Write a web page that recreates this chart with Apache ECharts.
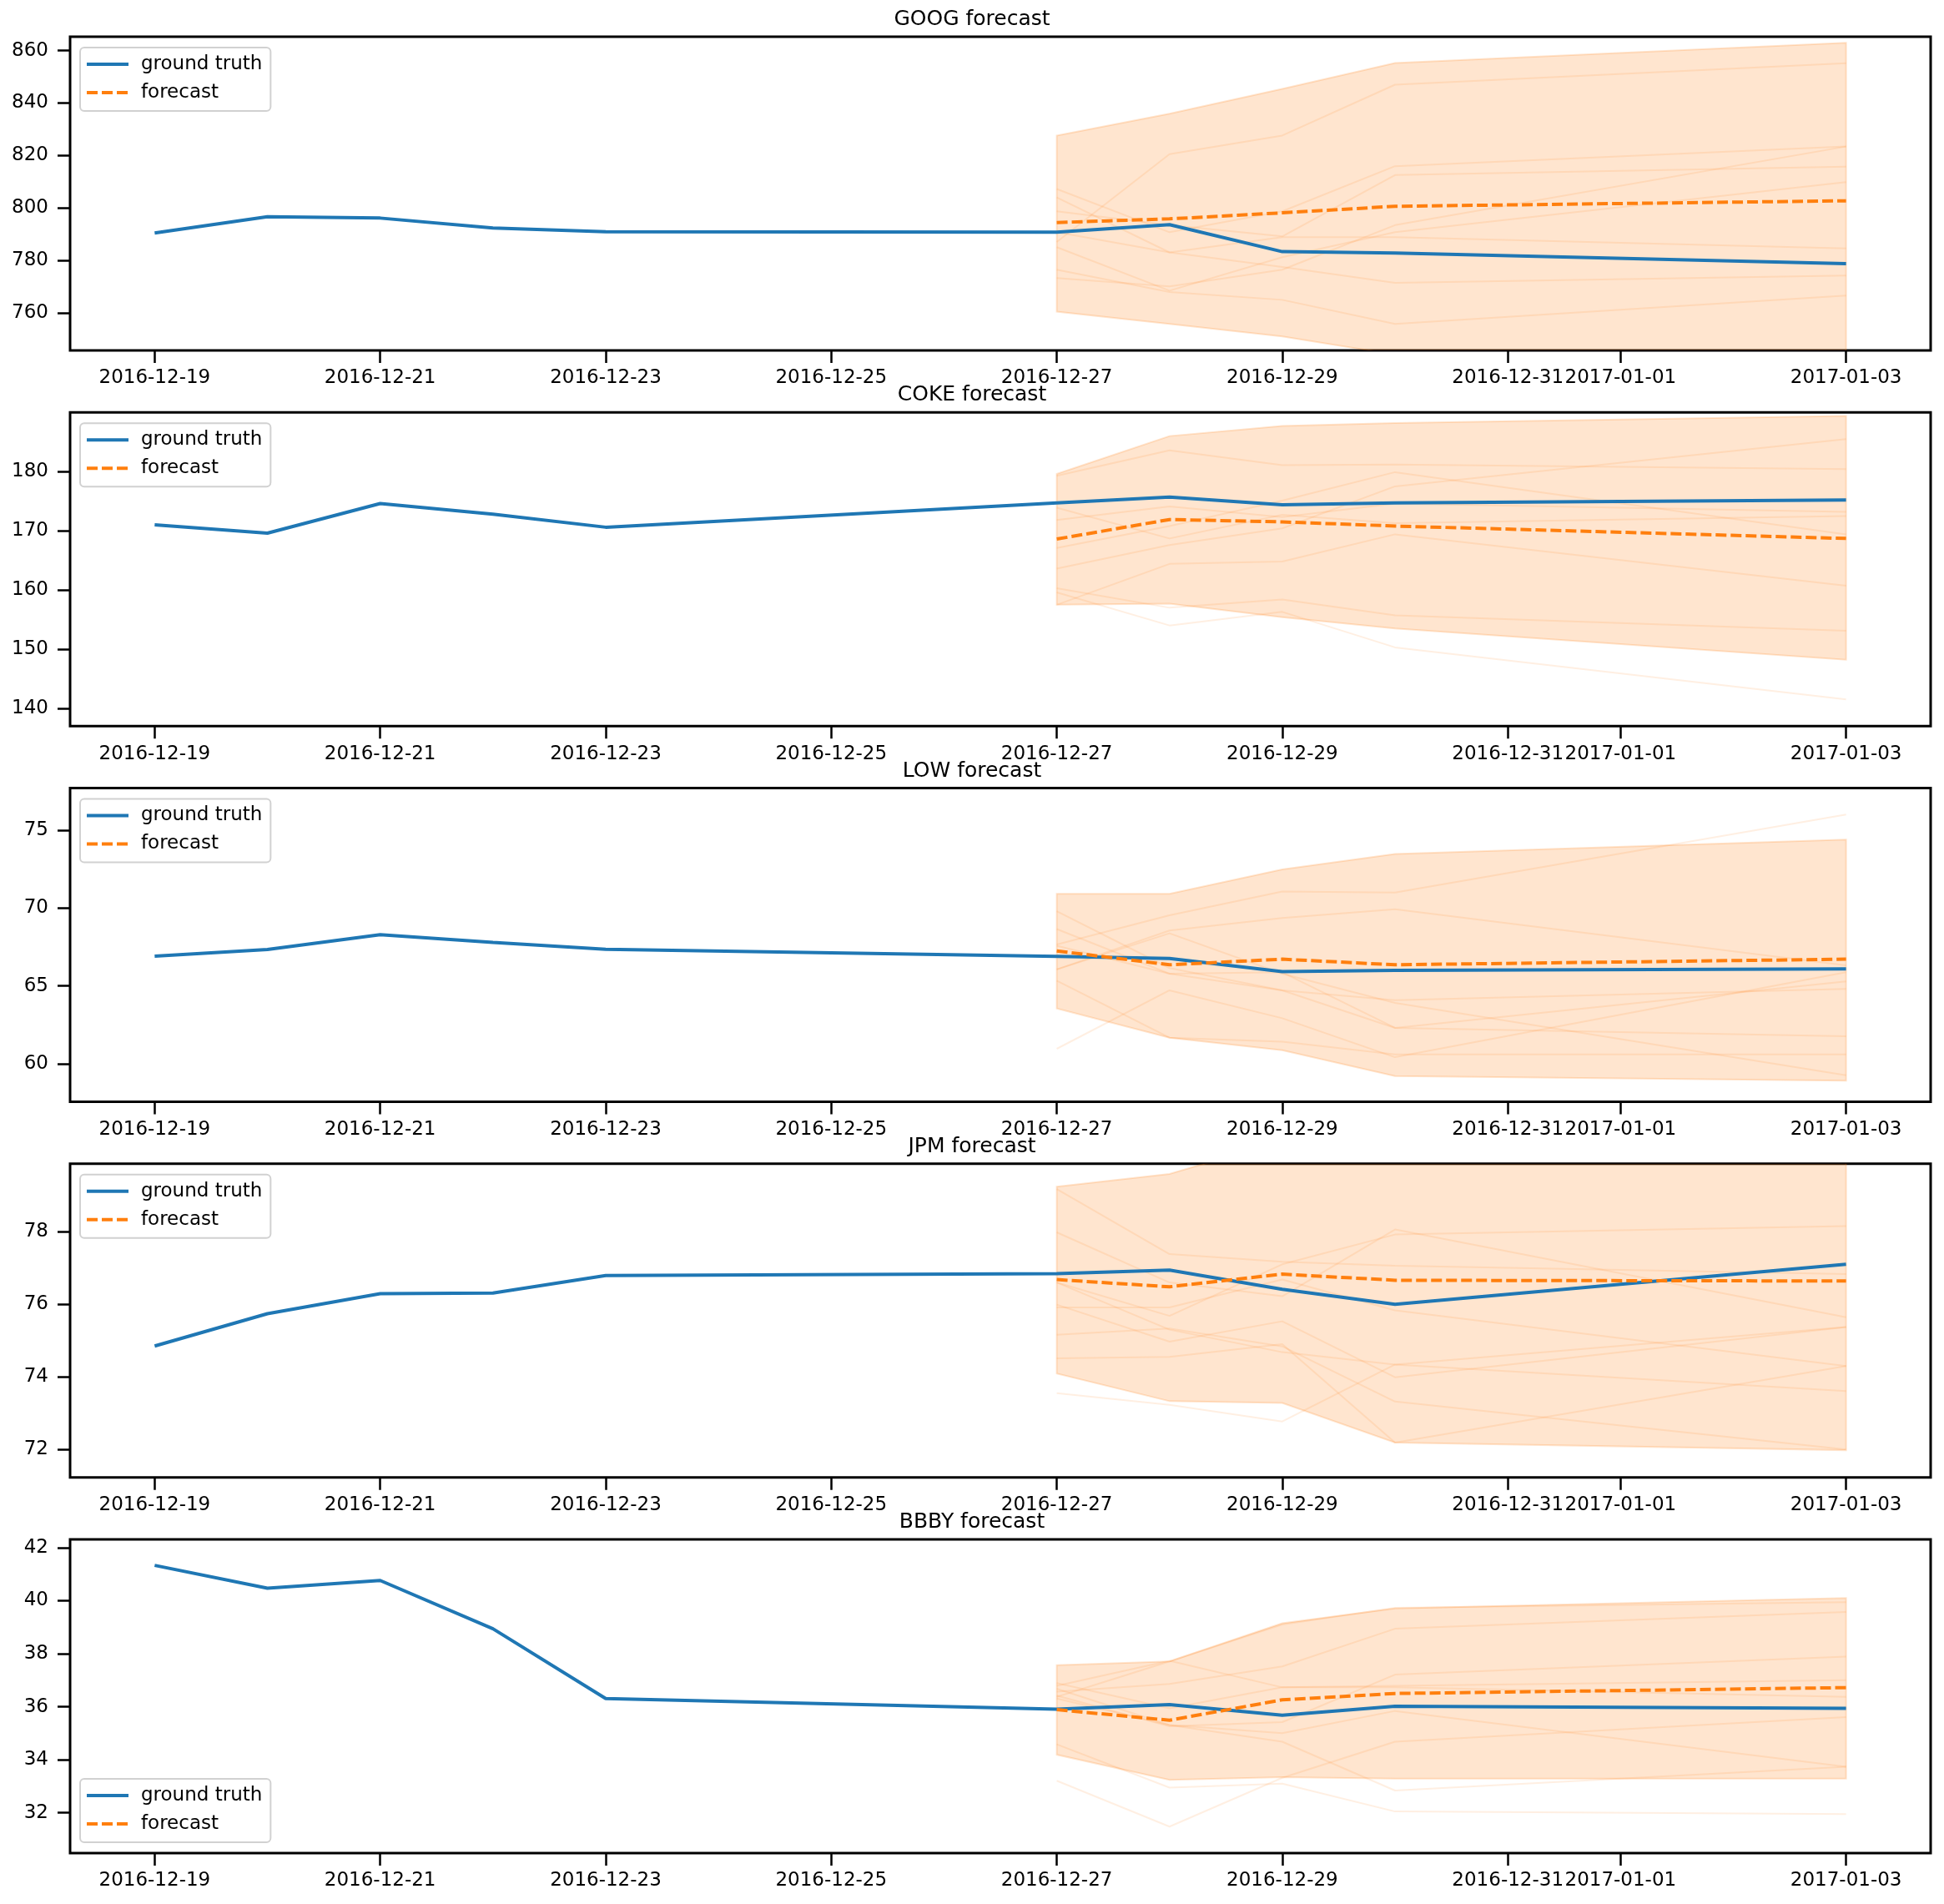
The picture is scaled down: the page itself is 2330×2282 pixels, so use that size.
<!DOCTYPE html>
<html>
<head>
<meta charset="utf-8">
<script src="https://cdn.jsdelivr.net/npm/echarts@6/dist/echarts.min.js"></script>
<style>
html, body { margin: 0; padding: 0; background: #fff; }
#chart { width: 2330px; height: 2282px; }
</style>
</head>
<body>
<div id="chart"></div>
<script>
// dates
const truthDates = ['2016-12-19', '2016-12-20', '2016-12-21', '2016-12-22', '2016-12-23',
  '2016-12-27', '2016-12-28', '2016-12-29', '2016-12-30', '2017-01-03']
const forecastDates = ['2016-12-27', '2016-12-28', '2016-12-29', '2016-12-30', '2017-01-03']
const xTickDates = ['2016-12-19', '2016-12-21', '2016-12-23', '2016-12-25', '2016-12-27',
  '2016-12-29', '2016-12-31', '2017-01-01', '2017-01-03']
const xRange = ['2016-12-18 06', '2017-01-03 18']

// GOOG
const googTruth = [790.4, 796.6, 796.1, 792.3, 790.9, 790.7, 793.6, 783.3, 782.8, 778.7]
const googForecast = [794.4, 795.8, 798.1, 800.6, 802.7]
const googUpper = [827.6, 835.9, 845.4, 855.3, 863.0]
const googLower = [760.4, 755.7, 750.9, 744.0, 741.0]
const googSamples = [
  [787.0, 820.5, 827.6, 847.0, 855.2],
  [807.2, 790.7, 798.7, 815.9, 823.4],
  [804.0, 783.0, 777.4, 771.4, 774.2],
  [798.7, 793.4, 789.1, 812.5, 815.7],
  [776.4, 767.9, 764.9, 755.7, 766.5],
  [773.2, 770.0, 776.4, 793.4, 823.4],
  [790.7, 783.0, 788.8, 788.8, 784.5],
  [785.0, 768.4, 781.2, 790.7, 809.8]
]
const googRange = [745.6, 865.3]
const googTicks = [760, 780, 800, 820, 840, 860]

// COKE
const cokeTruth = [171.0, 169.6, 174.6, 172.8, 170.6, 174.7, 175.7, 174.4, 174.7, 175.2]
const cokeForecast = [168.6, 171.9, 171.5, 170.8, 168.7]
const cokeUpper = [179.6, 186.0, 187.7, 188.2, 189.4]
const cokeLower = [157.5, 157.7, 155.4, 153.5, 148.2]
const cokeSamples = [
  [179.3, 183.6, 181.1, 181.2, 180.4],
  [171.8, 174.1, 172.3, 174.6, 173.2],
  [173.9, 168.7, 172.7, 171.3, 172.5],
  [167.1, 170.8, 175.1, 179.9, 169.4],
  [163.6, 167.6, 170.4, 177.5, 185.5],
  [157.5, 164.4, 164.8, 169.4, 160.7],
  [160.3, 157.0, 158.4, 155.7, 153.1],
  [159.6, 154.0, 156.3, 150.3, 141.5]
]
const cokeRange = [137.0, 190.0]
const cokeTicks = [140, 150, 160, 170, 180]

// LOW
const lowTruth = [66.91, 67.34, 68.29, 67.79, 67.36, 66.90, 66.77, 65.92, 66.00, 66.09]
const lowForecast = [67.25, 66.36, 66.72, 66.36, 66.72]
const lowUpper = [70.91, 70.91, 72.48, 73.47, 74.39]
const lowLower = [63.56, 61.68, 60.88, 59.22, 58.92]
const lowSamples = [
  [67.66, 69.54, 71.06, 71.00, 76.00],
  [66.06, 68.56, 69.36, 69.93, 66.32],
  [69.80, 66.15, 64.72, 62.31, 61.77],
  [68.65, 65.79, 64.72, 64.09, 64.81],
  [65.34, 61.68, 61.42, 60.61, 60.61],
  [60.97, 64.72, 62.93, 60.43, 65.88],
  [66.06, 68.38, 65.79, 63.91, 59.27],
  [67.58, 65.79, 65.88, 62.31, 65.29]
]
const lowRange = [57.57, 77.7]
const lowTicks = [60, 65, 70, 75]

// JPM
const jpmTruth = [74.85, 75.74, 76.29, 76.31, 76.79, 76.84, 76.94, 76.41, 76.00, 77.10]
const jpmForecast = [76.68, 76.48, 76.83, 76.66, 76.64]
const jpmUpper = [79.24, 79.59, 80.5, 80.8, 81.0]
const jpmLower = [74.09, 73.33, 73.28, 72.19, 71.98]
const jpmSamples = [
  [79.17, 77.38, 77.17, 77.06, 76.83],
  [77.98, 76.60, 76.22, 78.06, 75.64],
  [76.60, 75.68, 77.10, 77.92, 78.15],
  [75.91, 75.91, 76.68, 75.83, 74.30],
  [75.99, 74.97, 75.53, 73.99, 75.37],
  [75.16, 75.33, 74.84, 73.32, 72.00],
  [74.51, 74.55, 74.90, 72.19, 74.30],
  [76.60, 75.30, 74.68, 74.34, 73.61],
  [73.55, 73.23, 72.77, 74.34, 75.37]
]
const jpmRange = [71.23, 79.87]
const jpmTicks = [72, 74, 76, 78]

// BBBY
const bbbyTruth = [41.33, 40.47, 40.76, 38.94, 36.31, 35.91, 36.08, 35.68, 36.02, 35.94]
const bbbyForecast = [35.89, 35.49, 36.26, 36.50, 36.72]
const bbbyUpper = [37.57, 37.71, 39.15, 39.71, 40.10]
const bbbyLower = [34.19, 33.24, 33.34, 33.29, 33.29]
const bbbySamples = [
  [36.37, 37.71, 39.10, 39.73, 39.94],
  [36.57, 36.86, 37.52, 38.94, 39.57],
  [36.89, 35.94, 36.73, 36.79, 37.00],
  [36.68, 35.31, 35.00, 35.84, 33.74],
  [36.42, 35.26, 35.42, 37.21, 37.89],
  [34.58, 32.95, 33.10, 32.05, 31.95],
  [33.21, 31.48, 33.32, 34.68, 35.61],
  [36.31, 35.31, 34.68, 32.84, 33.74],
  [36.79, 37.73, 36.73, 36.73, 36.37]
]
const bbbyRange = [30.48, 42.31]
const bbbyTicks = [32, 34, 36, 38, 40, 42]

const panels = [
  { name: 'GOOG', truth: googTruth, forecast: googForecast, upper: googUpper, lower: googLower, samples: googSamples, range: googRange, ticks: googTicks, legendLow: false },
  { name: 'COKE', truth: cokeTruth, forecast: cokeForecast, upper: cokeUpper, lower: cokeLower, samples: cokeSamples, range: cokeRange, ticks: cokeTicks, legendLow: false },
  { name: 'LOW', truth: lowTruth, forecast: lowForecast, upper: lowUpper, lower: lowLower, samples: lowSamples, range: lowRange, ticks: lowTicks, legendLow: false },
  { name: 'JPM', truth: jpmTruth, forecast: jpmForecast, upper: jpmUpper, lower: jpmLower, samples: jpmSamples, range: jpmRange, ticks: jpmTicks, legendLow: false },
  { name: 'BBBY', truth: bbbyTruth, forecast: bbbyForecast, upper: bbbyUpper, lower: bbbyLower, samples: bbbySamples, range: bbbyRange, ticks: bbbyTicks, legendLow: true }
]

// 本地时间解析 'yyyy-mm-dd' 或 'yyyy-mm-dd hh'
function toTime (s) {
  const p = s.split(/[- ]/).map(Number)
  return new Date(p[0], p[1] - 1, p[2], p[3] || 0).getTime()
}
function fmtDate (v) {
  const d = new Date(v)
  const pad = n => String(n).padStart(2, '0')
  return d.getFullYear() + '-' + pad(d.getMonth() + 1) + '-' + pad(d.getDate())
}

const FONT = 'DejaVu Sans'
const BLUE = '#1f77b4'
const ORANGE = '#ff7f0e'
const gridLeft = 84
const gridRight = 16
const gridTop0 = 44
const gridPitch = 450.25
const gridHeight = 376

const xTicks = xTickDates.map(toTime)
const truthX = truthDates.map(toTime)
const fcX = forecastDates.map(toTime)

const option = {
  backgroundColor: '#fff',
  animation: false,
  title: [],
  legend: [],
  grid: [],
  xAxis: [],
  yAxis: [],
  series: []
}

// 区间带：用 custom 系列画成一个多边形
function bandRenderItem (params, api) {
  if (params.dataIndex !== 0) return
  const n = params.dataInsideLength
  const top = []
  const bottom = []
  for (let k = 0; k < n; k++) {
    const t = api.value(0, k)
    top.push(api.coord([t, api.value(2, k)]))
    bottom.unshift(api.coord([t, api.value(1, k)]))
  }
  const cs = params.coordSys
  return {
    type: 'polygon',
    shape: { points: top.concat(bottom) },
    style: { fill: 'rgba(255,127,14,0.2)', stroke: 'rgba(255,127,14,0.2)', lineWidth: 2 },
    clipPath: { type: 'rect', shape: { x: cs.x, y: cs.y, width: cs.width, height: cs.height } }
  }
}

panels.forEach((p, i) => {
  const top = gridTop0 + i * gridPitch
  option.grid.push({
    left: gridLeft, right: gridRight, top: top, height: gridHeight,
    show: true, borderColor: '#000', borderWidth: 3, backgroundColor: 'transparent'
  })
  option.title.push({
    text: p.name + ' forecast',
    left: 'center',
    top: top - 33,
    padding: 0,
    textStyle: { fontFamily: FONT, fontSize: 25, fontWeight: 'normal', color: '#000' }
  })
  option.legend.push({
    orient: 'vertical',
    left: 96,
    top: p.legendLow ? top + 287 : top + 13,
    data: ['ground truth', 'forecast'],
    itemWidth: 50,
    itemHeight: 14,
    itemGap: 10,
    padding: [8, 10, 10, 6],
    backgroundColor: 'rgba(255,255,255,0.8)',
    borderColor: 'rgba(204,204,204,0.9)',
    borderWidth: 2,
    borderRadius: 5,
    selectedMode: false,
    itemStyle: { color: 'rgba(0,0,0,0)', borderColor: 'rgba(0,0,0,0)', borderWidth: 0 },
    lineStyle: { width: 4 },
    textStyle: { fontFamily: FONT, fontSize: 23, color: '#000', lineHeight: 24, padding: [0, 0, 0, 10] }
  })
  // x 轴用时间戳数值，刻度手动指定
  option.xAxis.push({
    type: 'value',
    gridIndex: i,
    min: toTime(xRange[0]),
    max: toTime(xRange[1]),
    axisLine: { show: false },
    axisTick: { show: true, length: 15, customValues: xTicks, lineStyle: { color: '#000', width: 2.5 } },
    axisLabel: {
      customValues: xTicks,
      formatter: v => fmtDate(v),
      margin: 22,
      fontFamily: FONT, fontSize: 23, color: '#000'
    },
    splitLine: { show: false }
  })
  option.yAxis.push({
    type: 'value',
    gridIndex: i,
    min: p.range[0],
    max: p.range[1],
    axisLine: { show: false },
    axisTick: { show: true, length: 15, customValues: p.ticks, lineStyle: { color: '#000', width: 2.5 } },
    axisLabel: { customValues: p.ticks, margin: 26, fontFamily: FONT, fontSize: 23, color: '#000' },
    splitLine: { show: false }
  })

  option.series.push({
    type: 'custom', xAxisIndex: i, yAxisIndex: i, silent: true,
    data: fcX.map((t, k) => [t, p.lower[k], p.upper[k]]),
    encode: { x: 0, y: [1, 2] },
    renderItem: bandRenderItem,
    z: 1
  })
  // 样本路径
  p.samples.forEach(s => {
    option.series.push({
      type: 'line', xAxisIndex: i, yAxisIndex: i, silent: true, symbol: 'none',
      data: fcX.map((t, k) => [t, s[k]]),
      lineStyle: { color: 'rgba(255,127,14,0.12)', width: 2 },
      z: 2
    })
  })
  option.series.push({
    name: 'ground truth',
    type: 'line', xAxisIndex: i, yAxisIndex: i, symbol: 'none',
    data: truthX.map((t, k) => [t, p.truth[k]]),
    lineStyle: { color: BLUE, width: 4 },
    itemStyle: { color: BLUE },
    z: 3
  })
  option.series.push({
    name: 'forecast',
    type: 'line', xAxisIndex: i, yAxisIndex: i, symbol: 'none',
    data: fcX.map((t, k) => [t, p.forecast[k]]),
    lineStyle: { color: ORANGE, width: 4, type: [13, 5] },
    itemStyle: { color: ORANGE },
    z: 4
  })
})

const myChart = echarts.init(document.getElementById('chart'), null, { renderer: 'canvas' })
myChart.setOption(option)
</script>
</body>
</html>
